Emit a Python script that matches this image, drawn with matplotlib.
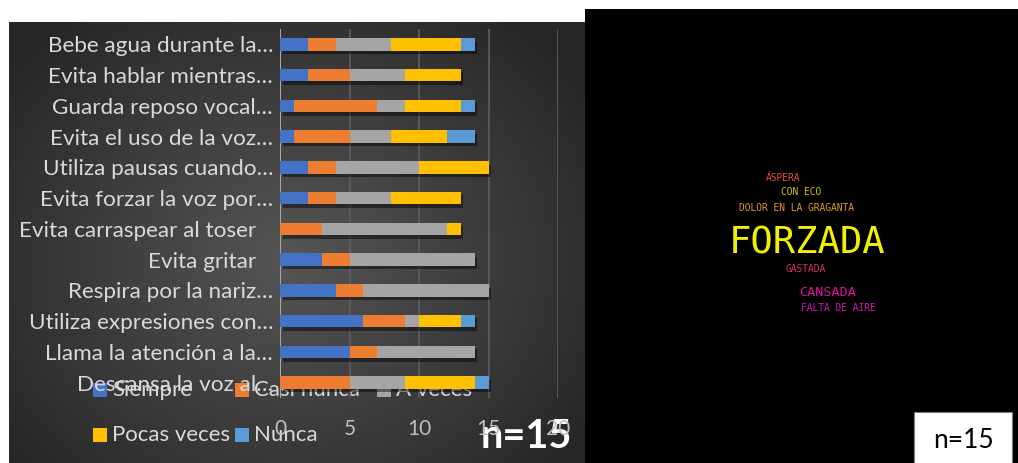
import numpy as np
import matplotlib
matplotlib.use("Agg")
import matplotlib.pyplot as plt
from matplotlib.patches import Rectangle
import matplotlib.patheffects as pe

# ---- survey data -------------------------------------------------------
categories = [
    "Bebe agua durante la…",
    "Evita hablar mientras…",
    "Guarda reposo vocal…",
    "Evita el uso de la voz…",
    "Utiliza pausas cuando…",
    "Evita forzar la voz por…",
    "Evita carraspear al toser   ",
    "Evita gritar   ",
    "Respira por la nariz…",
    "Utiliza expresiones con…",
    "Llama la atención a la…",
    "Descansa la voz al…",
]
series_names = ["Siempre", "Casi nunca", "A veces", "Pocas veces", "Nunca"]
siempre = [2, 2, 1, 1, 2, 2, 0, 3, 4, 6, 5, 0]
casi_nunca = [2, 3, 6, 4, 2, 2, 3, 2, 2, 3, 2, 5]
a_veces = [4, 4, 2, 3, 6, 4, 9, 9, 9, 1, 7, 4]
pocas_veces = [5, 4, 4, 4, 5, 5, 1, 0, 0, 3, 0, 5]
nunca = [1, 0, 1, 2, 0, 0, 0, 0, 0, 1, 0, 1]
x_ticks = [0, 5, 10, 15, 20]
sample_label = "n=15"

# word cloud terms
words = ["ÁSPERA", "CON ECO", "DOLOR EN LA GRAGANTA", "FORZADA",
         "GASTADA", "CANSADA", "FALTA DE AIRE"]

# ---- styling -----------------------------------------------------------
colors = ["#4472C4", "#ED7D31", "#A5A5A5", "#FFC000", "#5B9BD5"]
word_layout = [  # (left x px, centre y px, size pt, colour)
    (766, 178, 6.9, "#e0503c"),
    (781, 192, 6.9, "#d2c400"),
    (739, 208, 6.9, "#dc9c24"),
    (729, 243, 26.8, "#f0f000"),
    (786, 269, 6.9, "#d4306a"),
    (799, 292, 9.7, "#e0109c"),
    (801, 308, 6.9, "#d410b8"),
]

W, H = 1018, 463
plt.rcParams["font.family"] = ["Lato", "DejaVu Sans"]
fig = plt.figure(figsize=(W / 100, H / 100), dpi=100, facecolor="white")

# background canvas in pixel coordinates
bg = fig.add_axes([0, 0, 1, 1])
bg.set_xlim(0, W)
bg.set_ylim(H, 0)
bg.axis("off")

# dark radial gradient behind the bar chart
gx0, gx1, gy0, gy1 = 9, 585, 22, 463
xx, yy = np.meshgrid(np.linspace(gx0, gx1, 300), np.linspace(gy0, gy1, 240))
d = np.sqrt(((xx - 290) / 330) ** 2 + ((yy - 260) / 290) ** 2)
shade = np.clip(0.335 - 0.17 * d, 0.15, 0.34)
bg.imshow(np.dstack([shade] * 3), extent=[gx0, gx1, gy1, gy0],
          aspect="auto", interpolation="bilinear", zorder=0)
bg.add_patch(Rectangle((585, 9), W - 585, H - 9, facecolor="black",
                       edgecolor="none", zorder=1))

# word cloud
for w, (x, y, s, c) in zip(words, word_layout):
    bg.text(x, y, w, fontsize=s, color=c, family="DejaVu Sans Mono",
            ha="left", va="center", zorder=2)

# sample size box on the word cloud
bg.add_patch(Rectangle((914, 412), 98, 52, facecolor="white",
                       edgecolor="#7f7f7f", lw=0.8, zorder=2))
bg.text(963, 440, sample_label, fontsize=19, color="black",
        ha="center", va="center", zorder=3)

# ---- stacked bar chart -------------------------------------------------
ax = fig.add_axes([280 / W, 1 - 398 / H, 278 / W, 369 / H])
ax.set_facecolor("none")
series = [siempre, casi_nunca, a_veces, pocas_veces, nunca]
ypos = np.arange(len(categories))
left = np.zeros(len(categories))
shadow = [pe.SimplePatchShadow(offset=(2, -2.5), alpha=0.45, shadow_rgbFace="black"),
          pe.Normal()]
for vals, col, name in zip(series, colors, series_names):
    vals = np.asarray(vals, dtype=float)
    bars = ax.barh(ypos, vals, left=left, height=0.41, color=col,
                   label=name, zorder=3)
    for b in bars:
        b.set_path_effects(shadow)
    left += vals

ax.set_xlim(0, 20)
ax.set_ylim(len(categories) - 0.5, -0.5)
ax.set_xticks(x_ticks)
ax.set_xticklabels([])
ax.tick_params(length=0)
ax.grid(axis="x", color="#5e5e5e", lw=1.2, zorder=0)
for s in ax.spines.values():
    s.set_visible(False)
ax.axvline(0, color="#a6a6a6", lw=1.5, zorder=2)

ax.set_yticks(ypos)
ax.set_yticklabels(categories, fontsize=16.2, color="#d9d9d9")
ax.tick_params(axis="y", pad=5)

# x tick labels sit well below the plot area
for t in x_ticks:
    ax.text(t, -0.084, str(t), transform=ax.get_xaxis_transform(),
            ha="center", va="center", fontsize=15, color="#bfbfbf", zorder=4)

# legend drawn in pixel space on the canvas
legend_pos = [(93, 390), (235, 390), (377, 390), (93, 435), (235, 435)]
for (lx, ly), col, name in zip(legend_pos, colors, series_names):
    bg.add_patch(Rectangle((lx, ly - 7), 14, 14, facecolor=col,
                           edgecolor="none", zorder=5))
    bg.text(lx + 19, ly, name, fontsize=16, color="#d9d9d9",
            ha="left", va="center", zorder=5)

# sample size on the bar chart
bg.text(526, 437, sample_label, fontsize=28.5, fontweight="bold",
        color="white", ha="center", va="center", zorder=6)

fig.savefig("out.png", dpi=100, facecolor="white")
